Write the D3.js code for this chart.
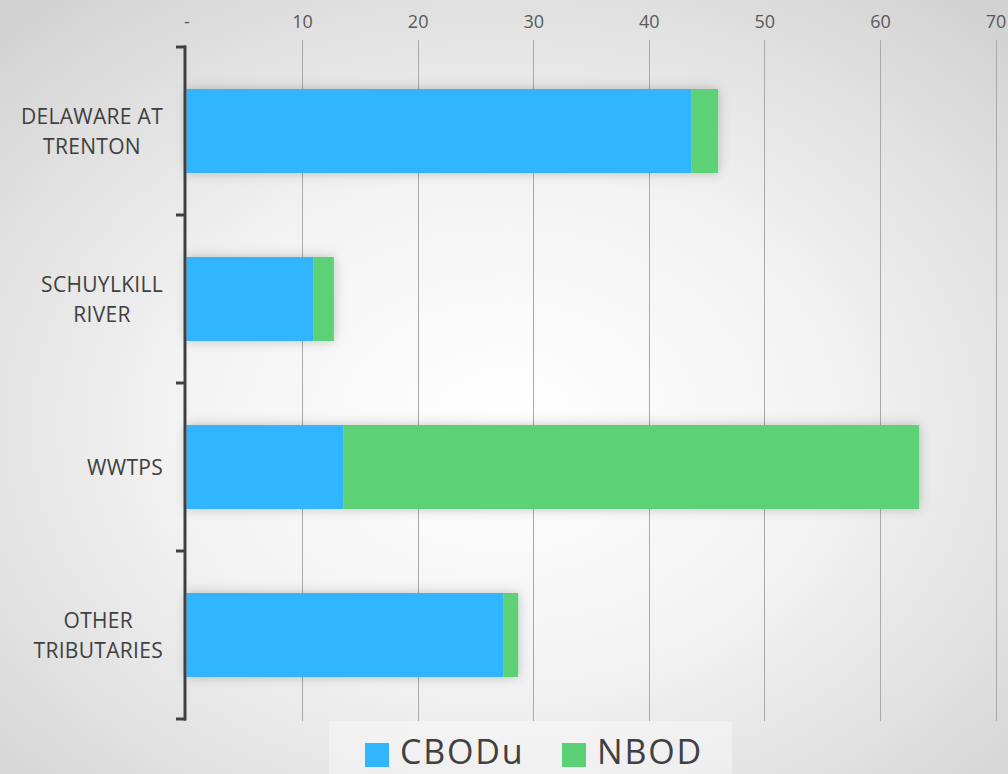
<!DOCTYPE html>
<html>
<head>
<meta charset="utf-8">
<script src="https://cdn.jsdelivr.net/npm/d3@7"></script>
<style>
  html, body { margin: 0; padding: 0; }
  body { width: 1008px; height: 774px; overflow: hidden; }
  svg { display: block; font-family: "Open Sans", "DejaVu Sans", sans-serif; }
</style>
</head>
<body>
<svg id="chart" width="1008" height="774"></svg>
<script>
// Oxygen-demand loads by source
const categories = [["DELAWARE AT", "TRENTON"], ["SCHUYLKILL", "RIVER"], ["WWTPS"], ["OTHER", "TRIBUTARIES"]];
const categoryKeys = ["DELAWARE AT TRENTON", "SCHUYLKILL RIVER", "WWTPS", "OTHER TRIBUTARIES"];
const seriesNames = ["CBODu", "NBOD"];
const cbodu = [43.7, 11.0, 13.6, 27.4];
const nbod = [2.3, 1.75, 49.8, 1.3];
const tickValues = [0, 10, 20, 30, 40, 50, 60, 70];
const tickLabels = ["-", "10", "20", "30", "40", "50", "60", "70"];
const colors = ["#31b5ff", "#5bd176"];

const W = 1008, H = 774;
const svg = d3.select("#chart");
const defs = svg.append("defs");

// Background: soft radial light falloff
const bg = defs.append("radialGradient").attr("id", "bg")
  .attr("cx", "50%").attr("cy", "55%").attr("r", "72%");
bg.append("stop").attr("offset", "0%").attr("stop-color", "#ffffff");
bg.append("stop").attr("offset", "45%").attr("stop-color", "#f3f3f3");
bg.append("stop").attr("offset", "100%").attr("stop-color", "#d2d2d2");
svg.append("rect").attr("width", W).attr("height", H).attr("fill", "url(#bg)");

// Bar shadow
const sh = defs.append("filter").attr("id", "shadow")
  .attr("x", "-20%").attr("y", "-40%").attr("width", "140%").attr("height", "180%");
sh.append("feDropShadow").attr("dx", 0).attr("dy", 0).attr("stdDeviation", 6)
  .attr("flood-color", "#000").attr("flood-opacity", 0.22);

const x = d3.scaleLinear().domain([0, 70]).range([186.5, 995.5]);
const y = d3.scaleBand().domain(categoryKeys).range([47, 719])
  .paddingInner(0.5).paddingOuter(0.25);

// Vertical gridlines
svg.append("g").selectAll("line")
  .data(tickValues.filter(v => v > 0))
  .join("line")
  .attr("x1", d => Math.round(x(d)) + 0.5).attr("x2", d => Math.round(x(d)) + 0.5)
  .attr("y1", 40).attr("y2", 721)
  .attr("stroke", "#a9a9a9").attr("stroke-width", 1);

// Top value axis
const xAxis = d3.axisTop(x).tickValues(tickValues)
  .tickFormat((d, i) => tickLabels[i]).tickSize(0).tickPadding(0);
const gx = svg.append("g").attr("transform", "translate(0,28)").call(xAxis);
gx.select(".domain").remove();
gx.selectAll("text").attr("font-size", 18).attr("fill", "#595959")
  .attr("font-family", "'Open Sans', sans-serif");

// Stacked bars
const rows = categoryKeys.map((k, i) => ({ key: k, CBODu: cbodu[i], NBOD: nbod[i] }));
const stacked = d3.stack().keys(seriesNames)(rows);

const barsG = svg.append("g").attr("filter", "url(#shadow)");
barsG.selectAll("g")
  .data(stacked)
  .join("g")
  .attr("fill", (d, i) => colors[i])
  .selectAll("rect")
  .data(d => d)
  .join("rect")
  .attr("x", d => x(d[0]))
  .attr("width", d => x(d[1]) - x(d[0]))
  .attr("y", d => y(d.data.key))
  .attr("height", y.bandwidth());

// Category axis with boundary ticks
const step = y.step();
const start = y.range()[0];
const bounds = d3.range(categoryKeys.length + 1).map(i => start + i * step);
const axisG = svg.append("g");
axisG.append("line")
  .attr("x1", 185).attr("x2", 185)
  .attr("y1", bounds[0] - 1.5).attr("y2", bounds[bounds.length - 1] + 1.5)
  .attr("stroke", "#404040").attr("stroke-width", 3);
axisG.selectAll("line.tick")
  .data(bounds)
  .join("line").attr("class", "tick")
  .attr("x1", 176).attr("x2", 186)
  .attr("y1", d => d).attr("y2", d => d)
  .attr("stroke", "#404040").attr("stroke-width", 3);

// Category labels: centred lines, block aligned to the right of the label column
const lineH = 30;
const labelRight = 163;
svg.append("g").selectAll("text")
  .data(categoryKeys)
  .join("text")
  .attr("text-anchor", "middle")
  .attr("font-size", 21)
  .attr("letter-spacing", 0.3)
  .attr("fill", "#404040")
  .each(function (k, i) {
    const lines = categories[i];
    const cy = y(k) + y.bandwidth() / 2;
    const t = d3.select(this);
    const spans = lines.map((ln, j) => t.append("tspan")
      .attr("y", cy + (j - (lines.length - 1) / 2) * lineH + 7.5)
      .text(ln));
    const maxW = d3.max(spans, s => s.node().getComputedTextLength());
    spans.forEach(s => s.attr("x", labelRight - maxW / 2));
  });

// Legend
const legend = svg.append("g");
legend.append("rect").attr("x", 329).attr("y", 721).attr("width", 403).attr("height", 60)
  .attr("fill", "#ffffff").attr("fill-opacity", 0.35);
const legendX = [365, 562];
seriesNames.forEach((s, i) => {
  legend.append("rect").attr("x", legendX[i]).attr("y", 743)
    .attr("width", 24).attr("height", 24).attr("fill", colors[i]);
  legend.append("text").attr("x", legendX[i] + 35).attr("y", 764)
    .attr("font-size", 34).attr("letter-spacing", 1.8)
    .attr("fill", "#404040").text(s);
});
</script>
</body>
</html>
